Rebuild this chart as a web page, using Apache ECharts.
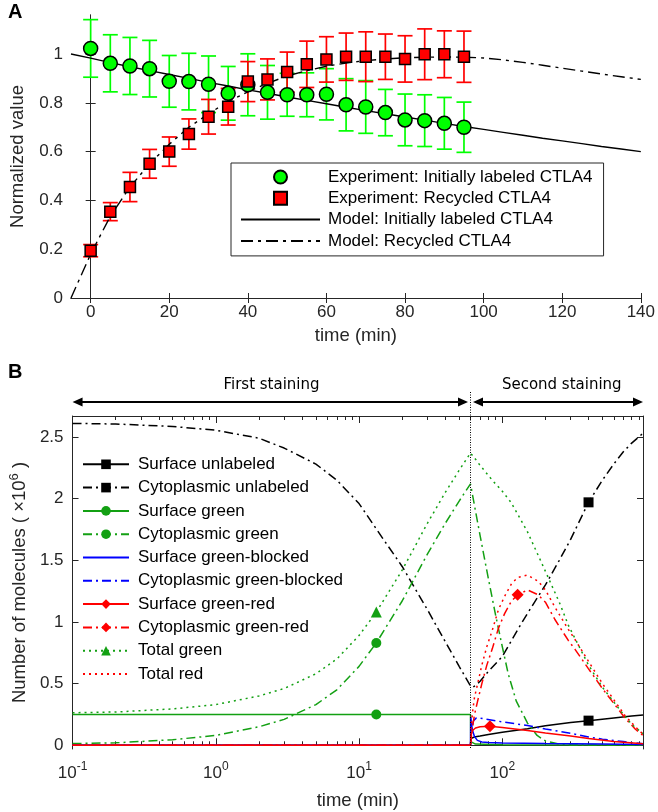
<!DOCTYPE html>
<html><head><meta charset="utf-8">
<script src="https://cdn.jsdelivr.net/npm/echarts@6.0.0/dist/echarts.min.js"></script>
<style>html,body{margin:0;padding:0;background:#fff}#c{width:658px;height:812px}</style>
</head><body><div id="c"></div><script>
// ---------- Panel A data ----------
const timeA = [0,5,10,15,20,25,30,35,40,45,50,55,60,65,70,75,80,85,90,95];
const initMean = [1.023,0.962,0.951,0.940,0.888,0.887,0.876,0.839,0.874,0.843,0.833,0.833,0.835,0.792,0.783,0.760,0.730,0.727,0.716,0.700];
const initErr  = [0.118,0.117,0.117,0.116,0.106,0.116,0.116,0.110,0.127,0.110,0.088,0.090,0.105,0.107,0.108,0.095,0.106,0.106,0.106,0.103];
const recMean  = [0.194,0.354,0.455,0.550,0.600,0.672,0.743,0.784,0.887,0.896,0.926,0.958,0.978,0.989,0.989,0.989,0.980,0.999,0.999,0.989];
const recErr   = [0.025,0.037,0.060,0.059,0.060,0.062,0.071,0.075,0.082,0.084,0.082,0.095,0.093,0.097,0.102,0.093,0.095,0.104,0.096,0.105];
const modelT    = [-5,0,5,10,15,20,25,30,35,40,45,50,55,60,65,70,75,80,85,90,95,100,105,110,115,120,125,130,135,140];
const modelInit = [1.0,0.983,0.965,0.948,0.932,0.916,0.900,0.884,0.869,0.853,0.839,0.824,0.810,0.796,0.782,0.768,0.755,0.742,0.729,0.716,0.703,0.691,0.679,0.667,0.655,0.644,0.633,0.621,0.611,0.600];
const modelRec  = [0,0.18,0.335,0.455,0.55,0.63,0.70,0.755,0.805,0.845,0.88,0.91,0.932,0.95,0.963,0.973,0.98,0.985,0.987,0.988,0.987,0.984,0.976,0.966,0.954,0.942,0.930,0.918,0.907,0.896];
const xTicksA = [0,20,40,60,80,100,120,140];
const yTicksA = [0,0.2,0.4,0.6,0.8,1];
const namesA = ['Experiment: Initially labeled CTLA4','Experiment: Recycled CTLA4','Model: Initially labeled CTLA4','Model: Recycled CTLA4'];

// ---------- Panel B data ----------
const sUnlabT = [0.1,60,60.3,62,65,70,80,100,150,200,300,400,600,800,960];
const sUnlabV = [0,0,0.055,0.065,0.07,0.075,0.088,0.105,0.135,0.158,0.185,0.2,0.222,0.237,0.245];
const cUnlabT = [0.1,0.2,0.5,1,2,3,5,7,10,15,20,30,40,50,60,62,66,70,80,100,130,150,200,250,300,400,500,600,700,800,960];
const cUnlabV = [2.61,2.605,2.585,2.555,2.49,2.41,2.28,2.15,1.96,1.66,1.45,1.1,0.84,0.64,0.48,0.47,0.49,0.52,0.6,0.72,0.95,1.07,1.3,1.5,1.67,1.97,2.15,2.28,2.38,2.45,2.53];
const sGreenT = [0.1,13.2,60,60.2,61,65,100,960];
const sGreenV = [0.25,0.25,0.25,0.03,0.015,0.01,0.005,0.002];
const cGreenT = [0.1,0.2,0.5,1,2,3,5,7,10,13.2,20,30,40,50,60,65,70,80,90,100,110,125,150,175,200,250,300,960];
const cGreenV = [0.014,0.02,0.045,0.08,0.15,0.21,0.33,0.45,0.64,0.83,1.17,1.55,1.8,1.98,2.12,1.9,1.7,1.35,1.05,0.8,0.58,0.36,0.18,0.08,0.035,0.01,0.003,0];
const sBlockT = [0.1,60,60.2,61,62,64,67,72,80,100,200,500,960];
const sBlockV = [0,0,0.23,0.17,0.12,0.07,0.04,0.027,0.022,0.018,0.014,0.01,0.007];
const cBlockT = [0.1,60,61,63,66,70,100,150,200,300,400,500,700,960];
const cBlockV = [0,0,0.12,0.2,0.222,0.22,0.19,0.16,0.132,0.097,0.067,0.05,0.03,0.012];
const sGRT = [0.1,60,60.5,62,65,70,82,100,150,200,300,400,600,960];
const sGRV = [0,0,0.08,0.12,0.14,0.15,0.155,0.145,0.12,0.1,0.075,0.055,0.03,0.012];
const cGRT = [0.1,60,61,62,64,67,72,78,85,94,104,116,128,150,178,200,233,289,321,400,500,600,720,850,960];
const cGRV = [0,0,0.08,0.15,0.25,0.35,0.5,0.65,0.78,0.95,1.07,1.17,1.22,1.26,1.22,1.16,1.02,0.85,0.78,0.62,0.46,0.34,0.22,0.13,0.08];
const tGreenT = [0.1,0.2,0.5,1,2,3,5,7,10,13.2,20,30,40,50,60,65,70,85,100,115,130,150,188,250,290,400,500,680,800,960];
const tGreenV = [0.264,0.27,0.295,0.33,0.4,0.46,0.58,0.7,0.89,1.08,1.42,1.8,2.05,2.23,2.37,2.32,2.27,2.15,2.06,1.97,1.86,1.73,1.48,1.16,0.97,0.65,0.47,0.27,0.17,0.095];
const tRedT = [0.1,60,61,62,64,67,72,78,85,94,104,116,128,150,178,200,233,289,321,400,500,600,720,850,960];
const tRedV = [0,0,0.18,0.27,0.39,0.49,0.65,0.8,0.93,1.1,1.21,1.31,1.36,1.38,1.33,1.26,1.12,0.94,0.86,0.68,0.5,0.37,0.24,0.15,0.09];
const xMajorB = [0.1,1,10,100];
const xMinorB = [0.2,0.3,0.4,0.5,0.6,0.7,0.8,0.9,2,3,4,5,6,7,8,9,20,30,40,50,60,70,80,90,200,300,400,500,600,700,800,900];
const yTicksB = [0,0.5,1,1.5,2,2.5];
const stainSwitch = 60;

const FONT = "'Liberation Sans', Arial, Helvetica, sans-serif";
const AX = '#262626';
const GREEN = '#13a013';

const chart = echarts.init(document.getElementById('c'), null, {renderer:'canvas'});

function errBar(name, means, errs, color){
  return {
    type:'custom', name:name, xAxisIndex:0, yAxisIndex:0, z:2,
    data: timeA.map((t,i)=>[t, means[i]-errs[i], means[i]+errs[i]]),
    encode:{x:0, y:[1,2]},
    renderItem:function(params, api){
      const x = api.value(0);
      const lo = api.coord([x, api.value(1)]);
      const hi = api.coord([x, api.value(2)]);
      const hw = 7.5;
      const st = {stroke:color, lineWidth:1.7};
      return {type:'group', children:[
        {type:'line', shape:{x1:lo[0],y1:lo[1],x2:hi[0],y2:hi[1]}, style:st},
        {type:'line', shape:{x1:lo[0]-hw,y1:lo[1],x2:lo[0]+hw,y2:lo[1]}, style:st},
        {type:'line', shape:{x1:hi[0]-hw,y1:hi[1],x2:hi[0]+hw,y2:hi[1]}, style:st}
      ]};
    }
  };
}

function bLine(name, ts, vs, color, dash, symbol, markT, symSize){
  return {
    type:'line', name:name, xAxisIndex:2, yAxisIndex:2,
    symbol: symbol || 'none', symbolSize: symSize || 9, showSymbol:true,
    data: ts.map((t,i)=> (symbol && t===markT) ? {value:[t,vs[i]]} : {value:[t,vs[i]], symbol:'none'}),
    lineStyle:{color:color, width:1.5, type:dash},
    itemStyle:{color:color},
    emphasis:{disabled:true}, z:3
  };
}

const DASHDOT = [9,4,2,4];
const DOT = [2,4];

const namesB = ['Surface unlabeled','Cytoplasmic unlabeled','Surface green','Cytoplasmic green','Surface green-blocked','Cytoplasmic green-blocked','Surface green-red','Cytoplasmic green-red','Total green','Total red'];
const noMarkB = [4,5,9];

const option = {
  animation:false,
  backgroundColor:'#fff',
  textStyle:{fontFamily:FONT},
  grid:[
    {left:70.5, top:15, right:15, height:283},
    {left:69.5, top:416, right:15, height:333}
  ],
  xAxis:[
    {type:'value', gridIndex:0, min:-5, max:140, position:'bottom',
     axisLine:{lineStyle:{color:AX,width:1}},
     axisTick:{inside:true, length:5, customValues:xTicksA, lineStyle:{color:AX}},
     axisLabel:{customValues:xTicksA, fontSize:17, color:AX, margin:6, fontFamily:FONT},
     splitLine:{show:false},
     name:'time (min)', nameLocation:'middle', nameGap:28,
     nameTextStyle:{fontSize:18.5, color:AX, fontFamily:FONT}},
    {type:'value', gridIndex:0, min:-5, max:140, position:'top',
     axisLine:{lineStyle:{color:AX,width:1}},
     axisTick:{inside:true, length:5, customValues:xTicksA, lineStyle:{color:AX}},
     axisLabel:{show:false}, splitLine:{show:false}},
    {type:'log', logBase:10, gridIndex:1, min:0.1, max:960, position:'bottom',
     axisLine:{lineStyle:{color:AX,width:1}},
     axisTick:{inside:true, length:7, customValues:xMajorB, lineStyle:{color:AX}},
     axisLabel:{customValues:xMajorB, color:AX, margin:12,
       formatter:function(v){ const e=Math.round(Math.log10(v)); return '{b|10}{s|'+e+'}'; },
       rich:{b:{fontSize:17, color:AX, fontFamily:FONT, verticalAlign:'bottom'},
             s:{fontSize:12, color:AX, fontFamily:FONT, verticalAlign:'bottom', padding:[0,0,9,0]}}},
     splitLine:{show:false},
     name:'time (min)', nameLocation:'middle', nameGap:42,
     nameTextStyle:{fontSize:18.5, color:AX, fontFamily:FONT}},
    {type:'log', logBase:10, gridIndex:1, min:0.1, max:960, position:'bottom',
     axisLine:{show:false},
     axisTick:{inside:true, length:4, customValues:xMinorB, lineStyle:{color:AX}},
     axisLabel:{show:false}, splitLine:{show:false}},
    {type:'log', logBase:10, gridIndex:1, min:0.1, max:960, position:'top',
     axisLine:{lineStyle:{color:AX,width:1}},
     axisTick:{inside:true, length:7, customValues:xMajorB, lineStyle:{color:AX}},
     axisLabel:{show:false}, splitLine:{show:false}},
    {type:'log', logBase:10, gridIndex:1, min:0.1, max:960, position:'top',
     axisLine:{show:false},
     axisTick:{inside:true, length:4, customValues:xMinorB, lineStyle:{color:AX}},
     axisLabel:{show:false}, splitLine:{show:false}}
  ],
  yAxis:[
    {type:'value', gridIndex:0, min:0, max:1.16, position:'left',
     axisLine:{show:true, lineStyle:{color:AX,width:1}},
     axisTick:{show:true, inside:true, length:5, customValues:yTicksA, lineStyle:{color:AX}},
     axisLabel:{customValues:yTicksA, fontSize:17, color:AX, margin:8, fontFamily:FONT,
       formatter:function(v){ return String(Math.round(v*10)/10); }},
     splitLine:{show:false},
     name:'Normalized value', nameLocation:'middle', nameGap:44,
     nameTextStyle:{fontSize:18.5, color:AX, fontFamily:FONT}},
    {type:'value', gridIndex:0, min:0, max:1.16, position:'right',
     axisLine:{show:true, lineStyle:{color:AX,width:1}},
     axisTick:{show:true, inside:true, length:5, customValues:yTicksA, lineStyle:{color:AX}},
     axisLabel:{show:false}, splitLine:{show:false}},
    {type:'value', gridIndex:1, min:-0.03, max:2.67, position:'left',
     axisLine:{show:true, lineStyle:{color:AX,width:1}},
     axisTick:{show:true, inside:true, length:6, customValues:yTicksB, lineStyle:{color:AX}},
     axisLabel:{customValues:yTicksB, fontSize:17, color:AX, margin:9, fontFamily:FONT,
       formatter:function(v){ return String(Math.round(v*10)/10); }},
     splitLine:{show:false},
     name:'Number of molecules ( ×10{s|6} )', nameLocation:'middle', nameGap:38,
     nameTextStyle:{fontSize:18.5, color:AX, fontFamily:FONT,
       rich:{s:{fontSize:13, color:AX, fontFamily:FONT, verticalAlign:'bottom', padding:[0,0,10,0]}}}},
    {type:'value', gridIndex:1, min:-0.03, max:2.67, position:'right',
     axisLine:{show:true, lineStyle:{color:AX,width:1}},
     axisTick:{show:true, inside:true, length:6, customValues:yTicksB, lineStyle:{color:AX}},
     axisLabel:{show:false}, splitLine:{show:false}}
  ],
  legend:[
    {data:[
       {name:namesA[0]},
       {name:namesA[1], icon:'path://M0,0L10,0L10,10L0,10Z'},
       {name:namesA[2], itemStyle:{opacity:0}},
       {name:namesA[3], itemStyle:{opacity:0}}
     ],
     orient:'vertical', left:231, top:163, itemWidth:79, itemHeight:13, itemGap:1.3,
     selectedMode:false, backgroundColor:'#fff', borderColor:AX, borderWidth:1,
     padding:[4,11,5,9],
     textStyle:{fontSize:17, lineHeight:20, color:'#000', fontFamily:FONT, padding:[0,0,0,3]}},
    {data:namesB.map((n,i)=> noMarkB.indexOf(i) >= 0 ? {name:n, itemStyle:{opacity:0}} : {name:n}),
     orient:'vertical', left:82, top:454.3, itemWidth:46, itemHeight:12, itemGap:3.3,
     selectedMode:false, padding:0,
     textStyle:{fontSize:17, lineHeight:20, color:'#000', fontFamily:FONT, padding:[0,0,0,4]}}
  ],
  series:[
    errBar('errInit', initMean, initErr, '#00ff00'),
    errBar('errRec', recMean, recErr, '#ff0000'),
    {type:'line', name:namesA[2], xAxisIndex:0, yAxisIndex:0, symbol:'none', z:3,
     data:modelT.map((t,i)=>[t, modelInit[i]]), lineStyle:{color:'#000', width:1.4, type:'solid'}, itemStyle:{color:'#000'}},
    {type:'line', name:namesA[3], xAxisIndex:0, yAxisIndex:0, symbol:'none', z:3,
     data:modelT.map((t,i)=>[t, modelRec[i]]), lineStyle:{color:'#000', width:1.4, type:[12,5,3,5]}, itemStyle:{color:'#000'}},
    {type:'scatter', name:namesA[0], xAxisIndex:0, yAxisIndex:0, symbol:'circle', symbolSize:14, z:4,
     data:timeA.map((t,i)=>[t, initMean[i]]),
     itemStyle:{color:'#00ff00', borderColor:'#000', borderWidth:1.5, opacity:1}},
    {type:'scatter', name:namesA[1], xAxisIndex:0, yAxisIndex:0, symbol:'rect', symbolSize:11, z:4,
     data:timeA.map((t,i)=>[t, recMean[i]]),
     itemStyle:{color:'#ff0000', borderColor:'#000', borderWidth:1.5, opacity:1}},

    bLine(namesB[0], sUnlabT, sUnlabV, '#000', 'solid', 'rect', 400, 10),
    bLine(namesB[1], cUnlabT, cUnlabV, '#000', DASHDOT, 'rect', 400, 10),
    bLine(namesB[2], sGreenT, sGreenV, GREEN, 'solid', 'circle', 13.2, 10),
    bLine(namesB[3], cGreenT, cGreenV, GREEN, DASHDOT, 'circle', 13.2, 10),
    bLine(namesB[4], sBlockT, sBlockV, '#0000ff', 'solid'),
    bLine(namesB[5], cBlockT, cBlockV, '#0000ff', DASHDOT),
    bLine(namesB[6], sGRT, sGRV, '#ff0000', 'solid', 'diamond', 82, 12),
    bLine(namesB[7], cGRT, cGRV, '#ff0000', DASHDOT, 'diamond', 128, 12),
    bLine(namesB[8], tGreenT, tGreenV, GREEN, DOT, 'triangle', 13.2, 11),
    bLine(namesB[9], tRedT, tRedV, '#ff0000', DOT)
  ]
};
chart.setOption(option);

// annotations derived from the axis scales
const x60 = chart.convertToPixel({xAxisIndex:2}, stainSwitch);
const xL = chart.convertToPixel({xAxisIndex:2}, 0.1);
const xR = chart.convertToPixel({xAxisIndex:2}, 960);
const yTop = chart.convertToPixel({yAxisIndex:2}, 2.67);
const yBot = chart.convertToPixel({yAxisIndex:2}, -0.03);
const ay = yTop - 14;
function arrow(x1, x2, y){
  const L = 10, W = 4.5;
  return [
    {type:'line', shape:{x1:x1+4, y1:y, x2:x2-4, y2:y}, style:{stroke:'#000', lineWidth:2}, z:10},
    {type:'polygon', shape:{points:[[x1,y],[x1+L,y-W],[x1+L,y+W]]}, style:{fill:'#000'}, z:10},
    {type:'polygon', shape:{points:[[x2,y],[x2-L,y-W],[x2-L,y+W]]}, style:{fill:'#000'}, z:10}
  ];
}
chart.setOption({graphic:[
  {type:'text', left:8, top:2, style:{text:'A', font:"bold 20px 'Liberation Sans', Arial", fill:'#000'}},
  {type:'text', left:8, top:362, style:{text:'B', font:"bold 20px 'Liberation Sans', Arial", fill:'#000'}},
  {type:'line', shape:{x1:x60, y1:ay-10, x2:x60, y2:yBot}, style:{stroke:'#000', lineWidth:1, lineDash:[1,1.5]}, z:9},
  ...arrow(xL, x60-2.5, ay),
  ...arrow(x60+2.5, xR, ay),
  {type:'text', x:(xL+x60)/2, y:ay-17, style:{text:'First staining', font:"15px 'DejaVu Sans'", fill:'#000', align:'center', verticalAlign:'middle'}},
  {type:'text', x:(x60+xR)/2+5, y:ay-17, style:{text:'Second staining', font:"15px 'DejaVu Sans'", fill:'#000', align:'center', verticalAlign:'middle'}}
]});
</script></body></html>
